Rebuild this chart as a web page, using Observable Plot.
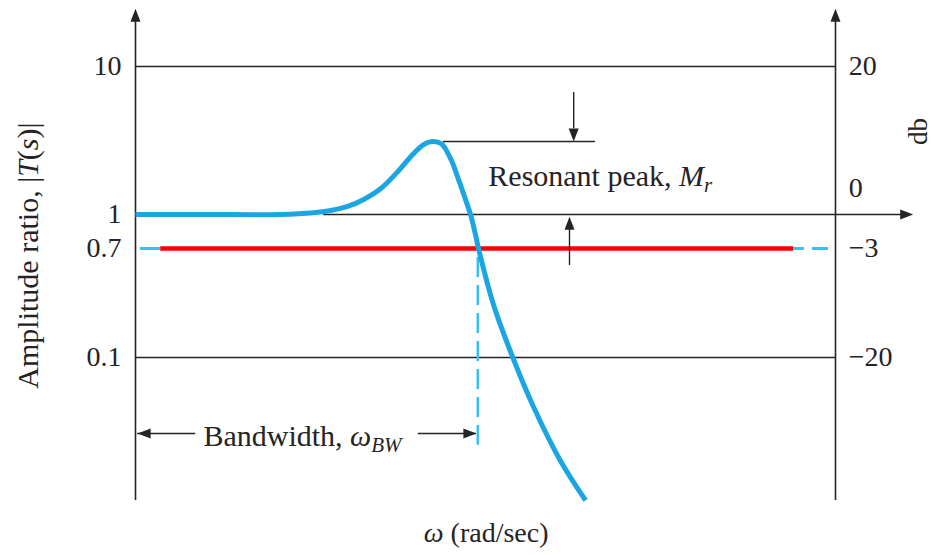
<!DOCTYPE html>
<html><head><meta charset="utf-8">
<script src="https://cdn.jsdelivr.net/npm/d3@7"></script>
<script src="https://cdn.jsdelivr.net/npm/@observablehq/plot@0.6"></script>
<style>body{margin:0;background:#fff}</style>
</head><body><div id="chart"></div>
<script>
// Schematic frequency axis (left axis = 0, right axis = 100) and magnitude in dB
const omega = [0, 10, 20.7, 25.4, 27.9, 30.3, 32.6, 35, 37.4, 39.7, 41.1, 42.4, 43.7, 45, 46.1, 47.1, 47.9, 48.6, 49, 51.1, 53.9, 56.9, 60.7, 64.3];
const magDb = [0, 0, 0, 0.23, 0.54, 1.08, 2.03, 3.47, 5.72, 8.2, 9.42, 9.86, 9.55, 7.57, 4.86, 2.16, -0.09, -1.85, -3, -11.6, -20, -27.8, -36.1, -42.3];

// Tick values (dB) and their labels
const tickDb = [20, 0, -3, -20];
const ratioLabels = ["10", "1", "0.7", "0.1"];
const dbLabels = ["20", "0", "−3", "−20"];
// where the (schematic, not-to-scale) drawing places each tick level
const drawnLevel = [20, -0.34, -5.02, -20];

// Key features
const bandwidth = 48.9;      // ω_BW
const resonantPeak = 9.86;   // M_r (dB)

// the figure is drawn not to scale: piecewise map from dB to drawn level
const level = d3.scaleLinear().domain(tickDb).range(drawnLevel);

const curve = omega.map((w, i) => ({w, y: level(magDb[i])}));

const ink = "#262324";
const blue = "#1ba6e3";
const dashBlue = "#3bbdf0";
const yTop = level(27.8), yBot = level(-42.3);
const head = {shape: "spike", anchor: "end", length: 13, r: 5, fill: ink, stroke: "none"};
const line = {stroke: ink, strokeWidth: 1.4};
const txt = {fill: ink, fontFamily: "Liberation Serif", lineAnchor: "middle"};
const L = level;

const svg = Plot.plot({
  width: 932,
  height: 555,
  x: {domain: [0, 100], range: [135, 835], axis: null},
  y: {domain: [20, -20], range: [66, 357], axis: null},
  style: {fontFamily: "Liberation Serif", fontSize: "28px", background: "#fff", overflow: "visible"},
  marks: [
    // gridlines at 10 and 0.1
    Plot.ruleY([tickDb[0], tickDb[3]], {y: L, x1: 0, x2: 100, ...line}),
    // horizontal axis at 1 (0 dB)
    Plot.ruleY([tickDb[1]], {y: L, x1: 26.9, x2: 110, ...line}),
    Plot.vector([tickDb[1]], {x: 111.1, y: L, rotate: 90, ...head}),
    // vertical axes
    Plot.ruleX([0, 100], {y1: yBot, y2: L(26.5), stroke: ink, strokeWidth: 1.6}),
    Plot.vector([0, 100], {x: d => d, y: yTop, rotate: 0, ...head}),
    // -3 dB level
    Plot.ruleY([tickDb[2]], {y: L, x1: 0.7, x2: 99, stroke: dashBlue, strokeWidth: 3, strokeDasharray: "20,8"}),
    Plot.ruleY([tickDb[2]], {y: L, x1: 3.6, x2: 94, stroke: "#ff0000", strokeWidth: 4.5}),
    // bandwidth dashed drop
    Plot.ruleX([bandwidth], {y1: L(-4.4), y2: L(-33.7), stroke: dashBlue, strokeWidth: 2.5, strokeDasharray: "20,8"}),
    // frequency response
    Plot.line(curve, {x: "w", y: "y", stroke: blue, strokeWidth: 5, curve: "catmull-rom", strokeLinecap: "butt"}),
    // resonant peak annotation
    Plot.ruleY([resonantPeak], {y: L, x1: 44, x2: 65.7, ...line}),
    Plot.ruleX([62.6], {y1: L(16.5), y2: L(11.6), ...line}),
    Plot.vector([resonantPeak], {x: 62.6, y: L, rotate: 180, ...head}),
    Plot.ruleX([62.0], {y1: L(-5.65), y2: L(-1.3), ...line}),
    Plot.vector([-0.2], {x: 62.0, y: L, rotate: 0, ...head}),
    // bandwidth arrows
    Plot.ruleY([-31.85], {y: L, x1: 0.3, x2: 8.6, ...line}),
    Plot.vector([-31.85], {x: 0.3, y: L, rotate: -90, ...head}),
    Plot.ruleY([-31.85], {y: L, x1: 40.4, x2: bandwidth - 0.2, ...line}),
    Plot.vector([-31.85], {x: bandwidth - 0.2, y: L, rotate: 90, ...head}),
    // tick labels
    Plot.text(ratioLabels, {x: -2, y: (d, i) => L(tickDb[i]), text: d => d, textAnchor: "end", fontSize: 28, ...txt}),
    Plot.text(dbLabels.filter((d, i) => i !== 1), {x: 101.9, y: (d, i) => L(tickDb.filter((v, j) => j !== 1)[i]), text: d => d, textAnchor: "start", fontSize: 28, ...txt}),
    Plot.text([dbLabels[1]], {x: 101.9, y: L(tickDb[1]), dy: -26, text: d => d, textAnchor: "start", fontSize: 28, ...txt}),
    // annotations and axis titles
    Plot.text(["Resonant peak, Mr"], {x: 50.4, y: L(5.14), text: d => d, textAnchor: "start", fontSize: 30, ...txt}),
    Plot.text(["Bandwidth, ωBW"], {x: 9.7, y: L(-32.3), text: d => d, textAnchor: "start", fontSize: 30, ...txt}),
    Plot.text(["ω (rad/sec)"], {x: 50.1, y: L(-47.4), text: d => d, fontSize: 28, ...txt}),
    Plot.text(["Amplitude ratio, |T(s)|"], {x: -15.3, y: L(-4.1), text: d => d, rotate: -90, fontSize: 30, ...txt}),
    Plot.text(["db"], {x: 111.9, y: L(11.2), text: d => d, rotate: -90, fontSize: 27, ...txt})
  ]
});

d3.select(svg).selectAll("text").each(function() {
  const t = this.textContent;
  if (t === "Resonant peak, Mr") this.innerHTML = 'Resonant peak, <tspan font-style="italic">M</tspan><tspan font-style="italic" font-size="21" dy="0.3em">r</tspan>';
  else if (t === "Bandwidth, ωBW") this.innerHTML = 'Bandwidth, <tspan font-style="italic">ω</tspan><tspan font-style="italic" font-size="21" dy="0.3em">BW</tspan>';
  else if (t === "ω (rad/sec)") this.innerHTML = '<tspan font-style="italic">ω</tspan> (rad/sec)';
  else if (t === "Amplitude ratio, |T(s)|") this.innerHTML = 'Amplitude ratio, |<tspan font-style="italic">T</tspan>(<tspan font-style="italic">s</tspan>)|';
});

document.getElementById("chart").appendChild(svg);
</script>
</body></html>
